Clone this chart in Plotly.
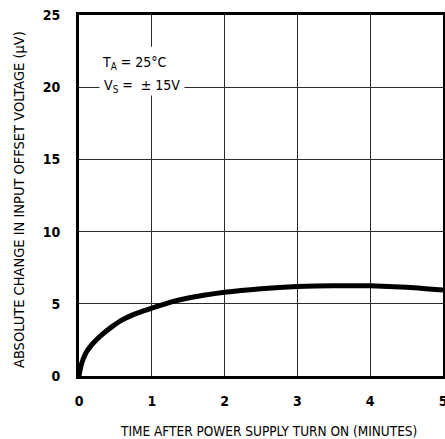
import plotly.graph_objects as go

# drift curve
minutes = [0, 0.01, 0.03, 0.06, 0.1, 0.15, 0.2, 0.3, 0.45, 0.6, 0.8, 1.0, 1.25, 1.5, 2.0, 2.5, 3.0, 3.5, 4.0, 4.5, 5.0]
delta_vos = [0, 0.3, 0.75, 1.2, 1.65, 2.0, 2.3, 2.8, 3.4, 3.9, 4.35, 4.7, 5.1, 5.4, 5.8, 6.05, 6.2, 6.25, 6.25, 6.15, 5.95]

x_ticks = [0, 1, 2, 3, 4, 5]
y_ticks = [0, 5, 10, 15, 20, 25]

FONT = "DejaVu Sans Condensed, Liberation Sans Narrow, Arial, sans-serif"
W, H = 445, 439
ML, MR, MT, MB = 79, 2, 15, 63

fig = go.Figure(
    go.Scatter(
        x=minutes,
        y=delta_vos,
        mode="lines",
        line=dict(color="black", width=5, shape="spline", smoothing=0.4),
        hoverinfo="skip",
        showlegend=False,
    )
)

axis_common = dict(
    showgrid=True,
    gridcolor="#2a2a2a",
    gridwidth=1.3,
    zeroline=False,
    showline=True,
    linecolor="black",
    linewidth=3,
    mirror=True,
    ticks="outside",
    ticklen=0,
    automargin=False,
    ticklabeloverflow="allow",
    tickfont=dict(family=FONT, size=14, color="black", weight="bold"),
)

fig.update_xaxes(range=[0, 5], tickvals=x_ticks, ticklabelstandoff=10, **axis_common)
fig.update_yaxes(range=[0, 25], tickvals=y_ticks, ticklabelstandoff=13, **axis_common)


def px_to_paper(px, py):
    return (px - ML) / (W - ML - MR), (H - MB - py) / (H - MT - MB)


# axis titles placed by hand
tx, ty = px_to_paper(268, 431)
fig.add_annotation(x=tx, y=ty, xref="paper", yref="paper", xanchor="center", yanchor="middle",
                   showarrow=False, text="TIME AFTER POWER SUPPLY TURN ON (MINUTES)",
                   font=dict(family=FONT, size=13.5, color="black"))
tx, ty = px_to_paper(19, 200)
fig.add_annotation(x=tx, y=ty, xref="paper", yref="paper", xanchor="center", yanchor="middle",
                   showarrow=False, textangle=-90,
                   text="ABSOLUTE CHANGE IN INPUT OFFSET VOLTAGE (μV)",
                   font=dict(family=FONT, size=14.5, color="black"))

# white patch so the note sits on a clear background (grid hidden behind it)
fig.add_shape(type="rect", xref="x", yref="y", x0=0.26, x1=1.52, y0=20.1, y1=22.8,
              fillcolor="white", line=dict(width=0), layer="between")

fig.add_annotation(x=0.29, y=21.65, xref="x", yref="y", xanchor="left", showarrow=False,
                   text="T<sub>A</sub> = 25°C", font=dict(family=FONT, size=14, color="black"))
fig.add_annotation(x=0.27, y=20.05, xref="x", yref="y", xanchor="left", showarrow=False,
                   text=" V<sub>S</sub> =  ± 15V ", bgcolor="white", borderpad=0,
                   font=dict(family=FONT, size=14, color="black"))

fig.update_layout(
    width=W,
    height=H,
    paper_bgcolor="white",
    plot_bgcolor="white",
    margin=dict(l=ML, r=MR, t=MT, b=MB),
)

fig.write_html(
    "out.html",
    config={"displayModeBar": False},
    post_script="document.body.style.margin='0';document.documentElement.style.overflow='hidden';",
)
